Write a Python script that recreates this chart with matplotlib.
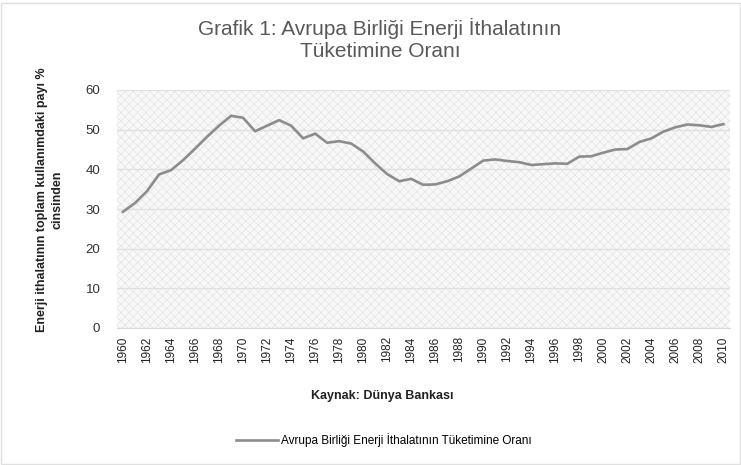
import matplotlib.pyplot as plt
from matplotlib.patches import Rectangle

# Avrupa Birliği enerji ithalatının tüketime oranı (%), 1960-2010
years = list(range(1960, 2011))
values = [29.3, 31.5, 34.5, 38.7, 39.8, 42.3, 45.2, 48.2, 51.0, 53.5,
          53.0, 49.6, 51.0, 52.4, 51.0, 47.8, 49.0, 46.7, 47.1, 46.5,
          44.5, 41.5, 38.8, 37.0, 37.6, 36.1, 36.2, 37.0, 38.2, 40.2,
          42.2, 42.5, 42.1, 41.8, 41.1, 41.3, 41.5, 41.4, 43.2, 43.3,
          44.2, 45.0, 45.1, 46.9, 47.8, 49.5, 50.6, 51.3, 51.1, 50.7,
          51.4]
tick_years = list(range(1960, 2011, 2))

title = "Grafik 1: Avrupa Birliği Enerji İthalatının\nTüketimine Oranı"
ylabel = "Enerji ithalatının toplam kullanımdaki payı %\ncinsinden"
source = "Kaynak: Dünya Bankası"
series_name = "Avrupa Birliği Enerji İthalatının Tüketimine Oranı"

plt.rcParams['font.family'] = ['Liberation Sans', 'DejaVu Sans']
plt.rcParams['hatch.linewidth'] = 0.4

W, H = 741, 465
fig = plt.figure(figsize=(W / 100, H / 100), dpi=100)
fig.patch.set_facecolor('white')

ax = fig.add_axes([117 / W, 1 - 328 / H, (730 - 117) / W, (328 - 90) / H])
ax.patch.set_facecolor('#f8f8f8')
# textured plot area, as in the original
ax.add_patch(Rectangle((0, 0), 1, 1, transform=ax.transAxes, facecolor='none',
                       edgecolor='#e0e0e0', linewidth=0, hatch='xxxx', zorder=0))

line, = ax.plot(years, values, color='#8c8c8c', linewidth=1.9,
                label=series_name, zorder=3)

ax.set_xlim(1959.5, 2010.55)
ax.set_ylim(0, 60)
ax.set_yticks(range(0, 61, 10))
ax.set_xticks(tick_years)
ax.set_xticklabels([str(y) for y in tick_years], rotation=90,
                   fontsize=8.5, color='#222222')
ax.tick_params(axis='both', length=0)
ax.tick_params(axis='y', labelsize=9.5, labelcolor='#333333', pad=12)
ax.tick_params(axis='x', pad=6)
ax.yaxis.grid(True, color='#e0e0e0', linewidth=1.0, zorder=1)
for side in ['top', 'right', 'left']:
    ax.spines[side].set_visible(False)
ax.spines['bottom'].set_color('#d9d9d9')

fig.text(380 / W, 1 - 39 / H, title, ha='center', va='center',
         fontsize=15, color='#595959', linespacing=1.2)
fig.text(50 / W, 1 - 200 / H, ylabel, ha='center', va='center',
         rotation=90, fontsize=9, fontweight='bold', color='#222222',
         linespacing=1.4)
fig.text(382 / W, 1 - 396 / H, source, ha='center', va='center',
         fontsize=9, fontweight='bold', color='#222222')

fig.legend(handles=[line], loc='center', bbox_to_anchor=(384 / W, 1 - 440 / H),
           frameon=False, fontsize=8.5, handlelength=3.5, handletextpad=0.3)

# faint frame around the chart
fig.add_artist(Rectangle((0.002, 0.002), 0.996, 0.992, transform=fig.transFigure,
                         fill=False, edgecolor='#e0e0e0', linewidth=1))

fig.savefig('out.png', dpi=100)
